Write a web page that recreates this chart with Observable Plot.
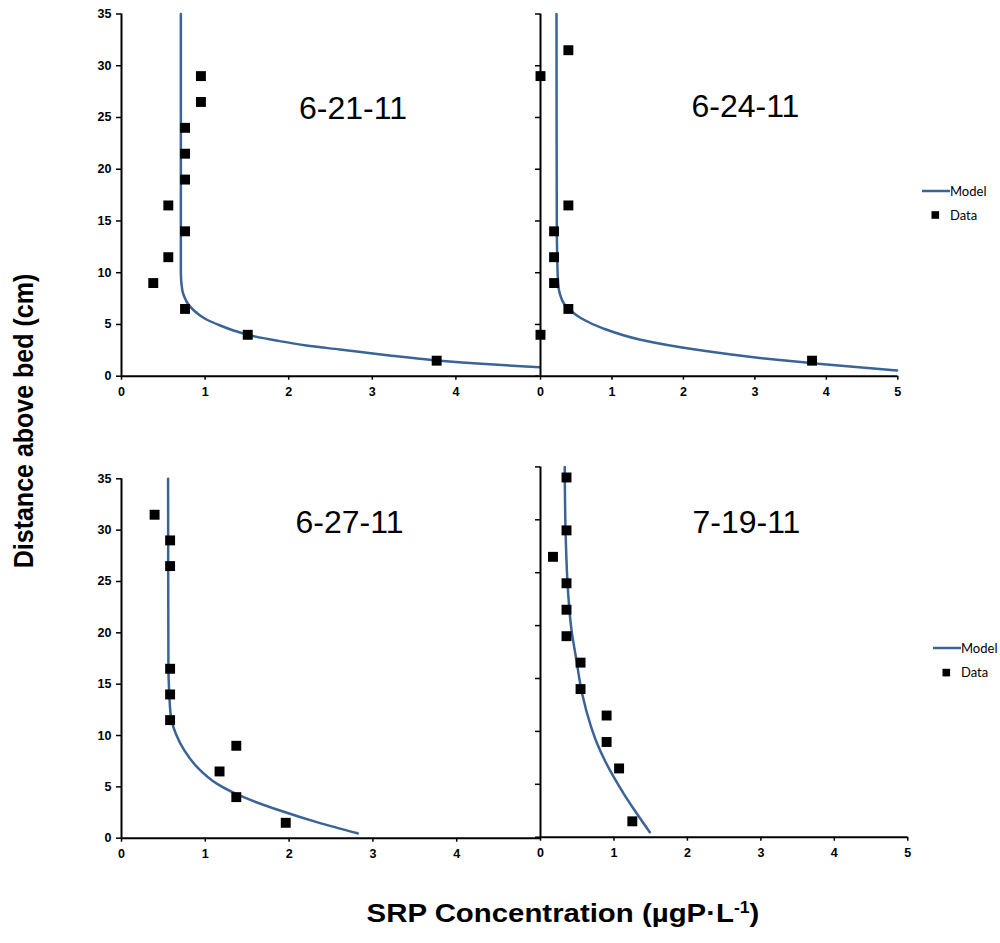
<!DOCTYPE html>
<html>
<head>
<meta charset="utf-8">
<script src="https://cdn.jsdelivr.net/npm/d3@7"></script>
<script src="https://cdn.jsdelivr.net/npm/@observablehq/plot@0.6"></script>
<style>
  html, body { margin: 0; padding: 0; background: white; }
  #chart { position: relative; width: 1000px; height: 943px; overflow: hidden; font-family: "Liberation Sans", Arial, sans-serif; }
  #chart svg.plotpanel { position: absolute; left: 0; top: 0; }
  .title { position: absolute; white-space: nowrap; font-weight: bold; color: black; }
  .legend { position: absolute; font-family: Lato, "Liberation Sans", sans-serif; font-size: 13px; color: black; }
</style>
</head>
<body>
<div id="chart"></div>
<script>
// ---------- data ----------
const panelLabels = ["6-21-11", "6-24-11", "6-27-11", "7-19-11"];
const xTicksLeft = [0, 1, 2, 3, 4];
const xTicksRight = [0, 1, 2, 3, 4, 5];
const yTicks = [0, 5, 10, 15, 20, 25, 30, 35];
const xDomain = [0, 5];
const yDomain = [0, 35];

// 6-21-11
const model1X = [0.71, 0.71, 0.71, 0.727, 0.754, 0.795, 0.866, 1.0, 1.18, 1.34, 1.54, 1.85, 2.21, 2.61, 3.13, 3.77, 4.4, 5.0];
const model1Y = [35, 15, 10, 8.3, 7.64, 7.0, 6.35, 5.55, 4.9, 4.42, 3.94, 3.45, 2.97, 2.58, 2.07, 1.52, 1.15, 0.87];
const data1X = [0.95, 0.95, 0.76, 0.76, 0.76, 0.56, 0.76, 0.56, 0.38, 0.76, 1.51, 3.77];
const data1Y = [29, 26.5, 24, 21.5, 19, 16.5, 14, 11.5, 9, 6.5, 4, 1.5];

// 6-24-11
const model2X = [0.224, 0.228, 0.234, 0.247, 0.27, 0.33, 0.42, 0.58, 0.89, 1.40, 2.19, 3.31, 3.80, 4.99];
const model2Y = [35, 15, 11.5, 8.94, 7.97, 7.0, 6.35, 5.55, 4.58, 3.52, 2.55, 1.58, 1.26, 0.55];
const data2X = [0.39, 0, 0.39, 0.19, 0.19, 0.19, 0.39, 0, 3.80];
const data2Y = [31.5, 29, 16.5, 14, 11.5, 9, 6.5, 4, 1.5];

// 6-27-11
const model3X = [0.556, 0.56, 0.57, 0.59, 0.647, 0.75, 0.906, 1.146, 1.465, 1.90, 2.34, 2.82];
const model3Y = [35, 16.7, 14.1, 11.8, 10.2, 8.55, 6.9, 5.27, 3.97, 2.67, 1.54, 0.47];
const data3X = [0.395, 0.58, 0.58, 0.58, 0.58, 0.58, 1.37, 1.17, 1.37, 1.96];
const data3Y = [31.5, 29, 26.5, 16.5, 14, 11.5, 9, 6.5, 4, 1.5];

// 7-19-11
const model4X = [0.33, 0.34, 0.377, 0.417, 0.49, 0.567, 0.69, 0.772, 0.876, 0.998, 1.134, 1.283, 1.488];
const model4Y = [35, 29.3, 23.0, 19.85, 16.7, 13.55, 10.4, 8.83, 7.25, 5.67, 4.1, 2.52, 0.47];
const data4X = [0.354, 0.354, 0.17, 0.354, 0.354, 0.354, 0.545, 0.545, 0.90, 0.90, 1.07, 1.25];
const data4Y = [34, 29, 26.5, 24, 21.5, 19, 16.5, 14, 11.5, 9, 6.5, 1.5];

const legendItems = ["Model", "Data"];
const xTitle = "SRP Concentration (µgP·L";
const xTitleSup = "-1";
const yTitle = "Distance above bed (cm)";

// ---------- layout ----------
const W = 1000, H = 943;
const BLUE = "#3a6496";
const FONT = '"Liberation Sans", Arial, sans-serif';

const zip = (xs, ys) => xs.map((x, i) => ({x, y: ys[i]}));
const zipSorted = (xs, ys) => zip(xs, ys).sort((a, b) => a.y - b.y);

const panels = [
  {left: 121, right: 539, top: 13.5, bottom: 375.7, xTicks: xTicksLeft, yLabels: true,
   model: zipSorted(model1X, model1Y), data: zip(data1X, data1Y), label: panelLabels[0], dx: 22.5, dy: 104.5},
  {left: 540, right: 897.3, top: 13.5, bottom: 375.7, xTicks: xTicksRight, yLabels: false,
   model: zipSorted(model2X, model2Y), data: zip(data2X, data2Y), label: panelLabels[1], dx: 26.3, dy: 102.5},
  {left: 121, right: 540, top: 478.3, bottom: 837.7, xTicks: xTicksLeft, yLabels: true,
   model: zipSorted(model3X, model3Y), data: zip(data3X, data3Y), label: panelLabels[2], dx: 18.5, dy: 54.4},
  {left: 540, right: 907.3, top: 466.4, bottom: 836.7, xTicks: xTicksRight, yLabels: false,
   model: zipSorted(model4X, model4Y), data: zip(data4X, data4Y), label: panelLabels[3], dx: 22.3, dy: 66.3}
];

const chart = document.getElementById("chart");

for (const p of panels) {
  const svg = Plot.plot({
    width: W, height: H,
    marginLeft: p.left, marginRight: W - p.right,
    marginTop: p.top, marginBottom: H - p.bottom,
    style: {background: "transparent", overflow: "visible", fontFamily: FONT, fontSize: "12.5px", fontWeight: "bold", color: "black"},
    x: {domain: xDomain, label: null},
    y: {domain: yDomain, label: null},
    marks: [
      Plot.axisX({ticks: p.xTicks, tickSize: 4, tickPadding: 7, strokeWidth: 1.5, label: null,
                  tickFormat: d => String(d)}),
      Plot.axisY({ticks: yTicks, tickSize: 5, tickPadding: 5, strokeWidth: 1.5, label: null,
                  tickFormat: p.yLabels ? (d => String(d)) : (() => "")}),
      Plot.ruleY([0], {stroke: "black", strokeWidth: 2}),
      Plot.ruleX([0], {stroke: "black", strokeWidth: 2}),
      Plot.line(p.model, {x: "x", y: "y", stroke: BLUE, strokeWidth: 2.5, curve: "monotone-y"}),
      Plot.dot(p.data, {x: "x", y: "y", symbol: "square", r: 5.6, fill: "black"}),
      Plot.text([p.label], {text: d => d, frameAnchor: "top", dx: p.dx, dy: p.dy, lineAnchor: "bottom",
                            fontSize: 32, fontWeight: "normal", fill: "black"})
    ]
  });
  svg.classList.add("plotpanel");
  chart.appendChild(svg);
}

// axis titles
const xt = document.createElement("div");
xt.className = "title";
xt.style.cssText = "left:562.5px; top:899.7px; font-size:26px; line-height:26px; transform:translateX(-50%) scaleX(1.13);";
xt.innerHTML = `${xTitle}<span style="position:relative; top:-0.55em; font-size:0.6em;">${xTitleSup}</span>)`;
chart.appendChild(xt);

const yt = document.createElement("div");
yt.className = "title";
yt.style.cssText = "left:22.5px; top:421px; font-size:25px; line-height:25px; transform:translate(-50%,-50%) rotate(-90deg) scaleY(1.12);";
yt.textContent = yTitle;
chart.appendChild(yt);

// legends
const legends = [
  {lineX0: 921.7, lineY: 191, sqX: 935, sqY: 215, textX: 950},
  {lineX0: 932.7, lineY: 647.7, sqX: 946, sqY: 672.3, textX: 961}
];
for (const L of legends) {
  const s = document.createElementNS("http://www.w3.org/2000/svg", "svg");
  s.setAttribute("width", 40); s.setAttribute("height", 40);
  s.style.cssText = `position:absolute; left:${L.lineX0}px; top:${L.lineY - 5}px; overflow:visible;`;
  s.innerHTML = `<line x1="0" x2="28" y1="5" y2="5" stroke="${BLUE}" stroke-width="2.5"/>
    <rect x="${L.sqX - L.lineX0 - 3.8}" y="${L.sqY - L.lineY + 5 - 3.8}" width="7.6" height="7.6" fill="black"/>`;
  chart.appendChild(s);
  legendItems.forEach((name, i) => {
    const d = document.createElement("div");
    d.className = "legend";
    const cy = i === 0 ? L.lineY : L.sqY;
    d.style.cssText = `left:${L.textX}px; top:${cy - 8}px; line-height:16px;`;
    d.textContent = name;
    chart.appendChild(d);
  });
}
</script>
</body>
</html>
